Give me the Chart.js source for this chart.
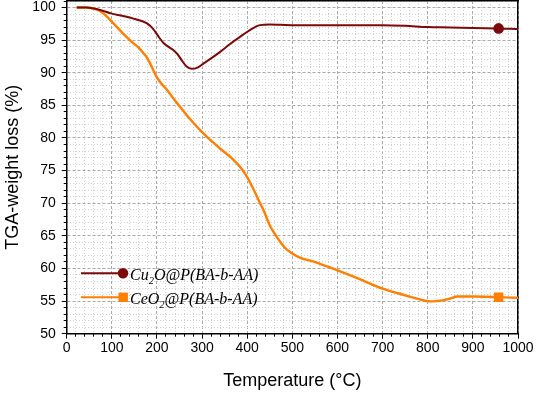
<!DOCTYPE html>
<html lang="en">
<head>
<meta charset="UTF-8">
<title>TGA curves</title>
<script src="https://cdn.jsdelivr.net/npm/chart.js"></script>
<style>
    body { margin: 0; background: #fff; }
    #wrap { width: 536px; height: 393px; }
</style>
</head>
<body>
<div id="wrap"><canvas id="tgaChart"></canvas></div>
<script>
    // Cu2O@P(BA-b-AA) curve
    const cuTemp = [22, 44, 70, 98, 125, 148, 177, 188, 196, 205, 214, 225, 236, 245, 255, 265, 277, 290, 303, 320, 340, 362, 384, 405, 428, 450, 500, 600, 700, 750, 800, 850, 900, 957, 1000];
    const cuWeight = [100, 100, 99.7, 99.1, 98.7, 98.3, 97.6, 97.0, 96.3, 95.4, 94.6, 94.0, 93.5, 92.9, 91.9, 91.0, 90.6, 90.8, 91.4, 92.2, 93.2, 94.4, 95.5, 96.5, 97.3, 97.4, 97.3, 97.3, 97.3, 97.2, 97.0, 96.95, 96.85, 96.8, 96.7];

    // CeO2@P(BA-b-AA) curve
    const ceTemp = [22, 45, 59, 70, 81, 92, 103, 114, 125, 137, 148, 160, 170, 178, 185, 192, 199, 210, 222, 236, 251, 266, 281, 300, 318, 343, 369, 385, 399, 412, 425, 437, 450, 464, 475, 486, 500, 515, 552, 600, 648, 700, 752, 780, 804, 820, 833, 850, 866, 900, 957, 1000];
    const ceWeight = [100, 100, 99.85, 99.6, 99.1, 98.4, 97.6, 96.8, 96.0, 95.2, 94.5, 93.8, 93.0, 92.3, 91.4, 90.4, 89.4, 88.3, 87.4, 86.1, 84.8, 83.5, 82.3, 80.9, 79.7, 78.2, 76.7, 75.5, 74.1, 72.4, 70.5, 68.8, 66.6, 65.0, 63.9, 63.0, 62.3, 61.7, 60.95, 59.7, 58.4, 56.9, 55.85, 55.3, 54.95, 55.0, 55.1, 55.4, 55.7, 55.7, 55.6, 55.5];

    // the single marker drawn on each curve
    const markerTemp = 957;

    // legend text: [before subscript, subscript, after subscript]
    const legendNames = [
        ['Cu', '2', 'O@P(BA-b-AA)'],
        ['CeO', '2', '@P(BA-b-AA)']
    ];

    const cuColor = '#7d0a0a';
    const ceColor = '#ff7f00';

    const toPoints = (xs, ys) => xs.map((x, i) => ({ x: x, y: ys[i] }));

    const sansFont = (size) => ({ family: '"Liberation Sans", Arial, sans-serif', size: size, lineHeight: 1 });

    // keep chart.js from reserving extra room for the tick labels
    const fixSize = (w, h) => (s) => {
        if (w !== null) s.width = w;
        if (h !== null) s.height = h;
        s.paddingTop = 0; s.paddingBottom = 0;
        s.paddingLeft = 0; s.paddingRight = 0;
    };

    // draws the in-plot legend with subscripts
    const tgaLegend = {
        id: 'tgaLegend',
        afterDatasetsDraw(chart) {
            const ctx = chart.ctx;
            const rows = [
                { y: 273.3, color: cuColor, style: 'circle', width: 2 },
                { y: 297.3, color: ceColor, style: 'rect', width: 2 }
            ];
            ctx.save();
            rows.forEach((row, i) => {
                ctx.strokeStyle = row.color;
                ctx.lineWidth = row.width;
                ctx.beginPath();
                ctx.moveTo(81, row.y);
                ctx.lineTo(123, row.y);
                ctx.stroke();
                ctx.fillStyle = row.color;
                if (row.style === 'circle') {
                    ctx.beginPath();
                    ctx.arc(123, row.y, 5.3, 0, Math.PI * 2);
                    ctx.fill();
                } else {
                    ctx.fillRect(118.5, row.y - 4.7, 9.4, 9.4);
                }

                const parts = legendNames[i];
                const base = row.y + 6.5;
                let x = 130;
                ctx.fillStyle = '#000';
                ctx.textBaseline = 'alphabetic';
                ctx.font = 'italic 16px "Liberation Serif", "Times New Roman", serif';
                ctx.fillText(parts[0], x, base);
                x += ctx.measureText(parts[0]).width;
                ctx.font = 'italic 10.5px "Liberation Serif", "Times New Roman", serif';
                ctx.fillText(parts[1], x, base + 4);
                x += ctx.measureText(parts[1]).width;
                ctx.font = 'italic 16px "Liberation Serif", "Times New Roman", serif';
                ctx.fillText(parts[2], x, base);
            });
            ctx.restore();
        }
    };

    const markerRadius = (temps, r) => (c) => temps[c.dataIndex] === markerTemp ? r : 0;

    new Chart(document.getElementById('tgaChart'), {
        type: 'line',
        data: {
            datasets: [{
                label: 'Cu2O@P(BA-b-AA)',
                data: toPoints(cuTemp, cuWeight),
                borderColor: cuColor,
                backgroundColor: cuColor,
                borderWidth: 2,
                pointStyle: 'circle',
                pointRadius: markerRadius(cuTemp, 5.3),
                pointBorderWidth: 0,
                cubicInterpolationMode: 'monotone',
                fill: false
            }, {
                label: 'CeO2@P(BA-b-AA)',
                data: toPoints(ceTemp, ceWeight),
                borderColor: ceColor,
                backgroundColor: ceColor,
                borderWidth: 2.4,
                pointStyle: 'rect',
                pointRadius: markerRadius(ceTemp, 6.7),
                pointBorderWidth: 0,
                cubicInterpolationMode: 'monotone',
                fill: false
            }]
        },
        options: {
            responsive: true,
            maintainAspectRatio: false,
            animation: false,
            layout: { padding: { top: 1, right: 18, left: 0, bottom: 0 } },
            plugins: {
                legend: { display: false },
                tooltip: { enabled: false }
            },
            scales: {
                x: {
                    type: 'linear',
                    position: 'bottom',
                    min: 0,
                    max: 1000,
                    weight: 0,
                    ticks: { stepSize: 100, includeBounds: false, color: '#000', font: sansFont(14), padding: 2, maxRotation: 0, callback: (v) => String(v) },
                    grid: { color: '#a9a9a9', lineWidth: 1, tickColor: '#000', tickLength: 5, tickWidth: 1 },
                    border: { color: '#000', width: 1.5, dash: [3, 2] },
                    title: { display: true, text: 'Temperature (°C)', color: '#000', font: { family: '"Liberation Sans", Arial, sans-serif', size: 18 }, padding: { top: 0, bottom: 1 } },
                    afterFit: fixSize(null, 59.3)
                },
                xMinor: {
                    type: 'linear',
                    position: 'bottom',
                    min: 0,
                    max: 1000,
                    weight: -10,
                    ticks: { display: false, stepSize: 20, includeBounds: false },
                    grid: {
                        color: (c) => (c.tick && c.tick.value % 100 === 0) ? 'rgba(0,0,0,0)' : '#d2d2d2',
                        lineWidth: 1, tickColor: '#000', tickLength: 3, tickWidth: 1
                    },
                    border: { display: false, dash: [1, 2] },
                    afterFit: fixSize(null, 0)
                },
                xTop: {
                    type: 'linear',
                    position: 'top',
                    min: 0,
                    max: 1000,
                    ticks: { display: false },
                    grid: { display: false },
                    border: { color: '#000', width: 1.5 },
                    afterFit: fixSize(null, 0)
                },
                y: {
                    type: 'linear',
                    position: 'left',
                    min: 50,
                    max: 101,
                    weight: 0,
                    ticks: { stepSize: 5, includeBounds: false, color: '#000', font: sansFont(14), padding: 6 },
                    grid: { color: '#a9a9a9', lineWidth: 1, tickColor: '#000', tickLength: 5, tickWidth: 1 },
                    border: { color: '#000', width: 1.5, dash: [3, 2] },
                    title: { display: true, text: 'TGA-weight loss (%)', color: '#000', font: { family: '"Liberation Sans", Arial, sans-serif', size: 18 }, padding: { top: 2, bottom: 0 } },
                    afterFit: fixSize(66.7, null)
                },
                yMinor: {
                    type: 'linear',
                    position: 'left',
                    min: 50,
                    max: 101,
                    weight: -10,
                    ticks: { display: false, stepSize: 1, includeBounds: false },
                    grid: {
                        color: (c) => (c.tick && c.tick.value % 5 === 0) ? 'rgba(0,0,0,0)' : '#d2d2d2',
                        lineWidth: 1, tickColor: '#000', tickLength: 3, tickWidth: 1
                    },
                    border: { display: false, dash: [1, 2] },
                    afterFit: fixSize(0, null)
                },
                yRight: {
                    type: 'linear',
                    position: 'right',
                    min: 50,
                    max: 101,
                    ticks: { display: false },
                    grid: { display: false },
                    border: { color: '#000', width: 1.5 },
                    afterFit: fixSize(0, null)
                }
            }
        },
        plugins: [tgaLegend]
    });
</script>
</body>
</html>
